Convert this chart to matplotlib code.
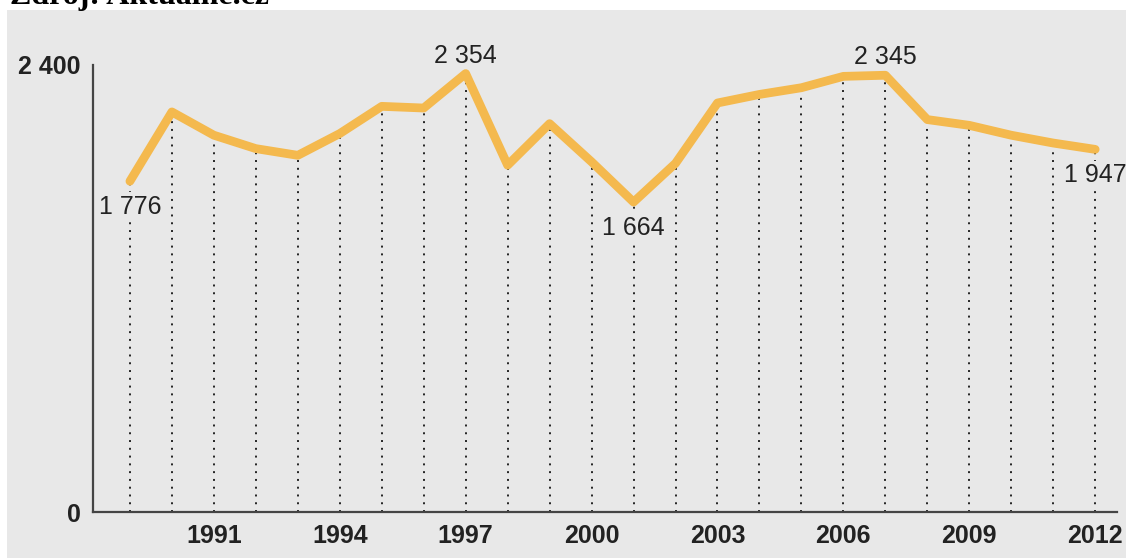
import matplotlib
matplotlib.use("Agg")
import matplotlib.pyplot as plt
from matplotlib.patches import Rectangle

years = list(range(1989, 2013))
values = [1776, 2148, 2023, 1951, 1915, 2032, 2178, 2169, 2354, 1862, 2085, 1880,
          1664, 1872, 2196, 2242, 2278, 2339, 2345, 2107, 2076, 2023, 1981, 1947]
xtick_years = [1991, 1994, 1997, 2000, 2003, 2006, 2009, 2012]
ytick_values = [0, 2400]
ytick_labels = ["0", "2 400"]
labelled_years = {1989: "below", 1997: "above", 2001: "below", 2007: "above", 2012: "below"}
source_text = "Zdroj: Aktuálně.cz"

W, H = 1126, 558
fig = plt.figure(figsize=(W / 100, H / 100), dpi=100, facecolor="white")

bg = "#e8e8e8"
fig.patches.append(Rectangle((7 / W, 0), 1 - 7 / W, 1 - 10 / H, transform=fig.transFigure,
                             facecolor=bg, edgecolor="none", zorder=-5))
fig.text(10 / W, 1 - 4 / H, source_text, family="Liberation Serif", weight="bold",
         fontsize=23, va="baseline", ha="left", color="black")

ax = fig.add_axes([93 / W, 1 - 512 / H, (1117 - 93) / W, (512 - 65) / H])
ax.set_zorder(2)
ax.set_facecolor("none")
ax.set_xlim(1988.12, 2012.52)
ax.set_ylim(0, 2400)

ax.vlines(years, 0, values, colors="#222222", linestyles=(0, (1, 3)), linewidth=1.4, zorder=1)
ax.plot(years, values, color="#f4b94e", linewidth=6.3, solid_joinstyle="round",
        solid_capstyle="round", zorder=3)

fs = 18
for yr, pos in labelled_years.items():
    v = values[years.index(yr)]
    txt = f"{v:,}".replace(",", " ")
    if pos == "above":
        ax.annotate(txt, (yr, v), xytext=(0, 13), textcoords="offset points", ha="center",
                    va="center", fontsize=fs, family="Liberation Sans", color="#222222", zorder=4)
    else:
        ax.annotate(txt, (yr, v), xytext=(0, -18.5), textcoords="offset points", ha="center",
                    va="center", fontsize=fs, family="Liberation Sans", color="#222222", zorder=4,
                    bbox=dict(boxstyle="square,pad=0.1", facecolor=bg, edgecolor="none"))

for s in ["top", "right"]:
    ax.spines[s].set_visible(False)
for s in ["left", "bottom"]:
    ax.spines[s].set_color("#444444")
    ax.spines[s].set_linewidth(1.6)

ax.set_xticks(xtick_years)
ax.set_xticklabels([str(y) for y in xtick_years], fontsize=fs, weight="bold",
                   family="Liberation Sans", color="#222222")
ax.set_yticks(ytick_values)
ax.set_yticklabels(ytick_labels, fontsize=fs, weight="bold", family="Liberation Sans",
                   color="#222222")
ax.tick_params(axis="both", length=0)
ax.tick_params(axis="x", pad=8.5)
ax.tick_params(axis="y", pad=9)

fig.savefig("out.png", dpi=100, facecolor="white")
